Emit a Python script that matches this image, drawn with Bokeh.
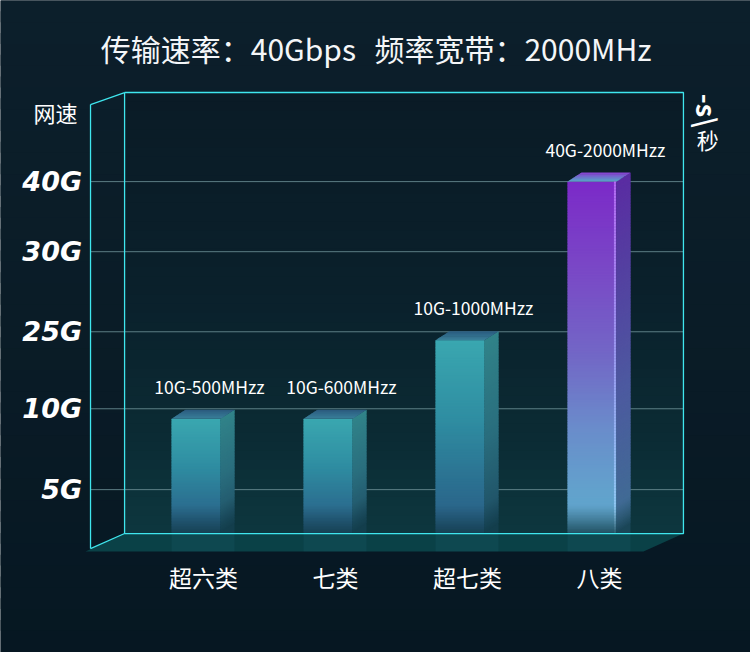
import numpy as np
from bokeh.plotting import figure
from bokeh.models import Range1d
from bokeh.core.properties import value
from bokeh.embed import file_html
from bokeh.resources import INLINE

# ---------------- data ----------------
title_parts = ["传输速率：40Gbps", "频率宽带：2000MHz"]
categories = ["超六类", "七类", "超七类", "八类"]
bar_labels = ["10G-500MHzz", "10G-600MHzz", "10G-1000MHzz", "40G-2000MHzz"]
bar_levels = [1.49, 1.49, 2.51, 4.57]          # bar heights on the (non-linear) speed scale
ytick_labels = ["5G", "10G", "25G", "30G", "40G"]
ytick_levels = [0.57, 1.62, 2.62, 3.66, 4.57]   # tick positions on the same scale
y_title = "网速"
unit_rot = "-s\\"
unit_cjk = "秒"

# ---------------- styles / geometry ----------------
BG = "#0a1b26"
CYAN = "#3fe6ee"
FONT = "Noto Sans CJK SC"
bar_kind = ["teal", "teal", "teal", "purple"]

X_RANGE = (-1.538, 4.144)
Y_RANGE = (-1.545, 6.922)
WALL_L, WALL_R, WALL_T = -0.598, 3.636, 5.727
FRONT_L, FRONT_T, FRONT_B = -0.856, 5.571, -0.195
FLOOR_FR, FLOOR_FB, FLOOR_FL = 3.333, -0.234, -0.894

FACE_L, FACE_R = -0.242, 0.129
DX, DY = 0.106, 0.117

FACE_STOPS = {
    "teal": [(0.0, "#2a5c84"), (0.25, "#2b6f90"), (0.6, "#2f8ea2"), (1.0, "#3aa7b0")],
    "purple": [(0.0, "#5fa6cc"), (0.12, "#62a2cc"), (0.3, "#6a8ccb"), (0.5, "#7268c6"),
               (0.75, "#7a48c6"), (1.0, "#7b2ac8")],
}
SIDE_STOPS = {
    "teal": [(0.0, "#1e4c62"), (0.5, "#2a6e7e"), (1.0, "#318389")],
    "purple": [(0.0, "#3e6f92"), (0.4, "#4d5aa0"), (1.0, "#5a2ca2")],
}
TOP_STOPS = {
    "teal": [(0.0, "#3a809a"), (1.0, "#2a5a7e")],
    "purple": [(0.0, "#55aac6"), (0.5, "#6f70cc"), (1.0, "#8a3ed2")],
}
FADE_COLOR = "#103a46"


def hex2rgb(h):
    h = h.lstrip("#")
    return np.array([int(h[i:i + 2], 16) for i in (0, 2, 4)], dtype=float)


def rgb2hex(c):
    c = np.clip(np.round(c), 0, 255).astype(int)
    return "#%02x%02x%02x" % tuple(c)


def grad(stops, t):
    t = min(max(t, 0.0), 1.0)
    for (p0, c0), (p1, c1) in zip(stops[:-1], stops[1:]):
        if t <= p1:
            f = 0.0 if p1 == p0 else (t - p0) / (p1 - p0)
            return hex2rgb(c0) + (hex2rgb(c1) - hex2rgb(c0)) * f
    return hex2rgb(stops[-1][1])


def fade(c, y):
    f = max(0.0, 1.0 - y / 0.38) ** 1.2 * 0.8
    return c * (1 - f) + hex2rgb(FADE_COLOR) * f


p = figure(width=750, height=652, x_range=Range1d(*X_RANGE), y_range=Range1d(*Y_RANGE),
           output_backend="svg", toolbar_location=None, min_border=0,
           background_fill_color=BG, border_fill_color=BG, outline_line_color=None)
p.grid.visible = False
p.axis.visible = False

# subtle background gradient (whole canvas)
NB = 30
bg_stops = [(0.0, "#061722"), (0.5, "#0a1c27"), (1.0, "#0c1f2b")]
bb = [Y_RANGE[0] + (Y_RANGE[1] - Y_RANGE[0]) * k / NB for k in range(NB + 1)]
p.quad(left=[X_RANGE[0]] * NB, right=[X_RANGE[1]] * NB, bottom=bb[:-1],
       top=[b + (bb[1] - bb[0]) * 1.5 for b in bb[:-1]],
       fill_color=[rgb2hex(grad(bg_stops, (k + 0.5) / NB)) for k in range(NB)], line_color=None)

# back wall gradient
N = 48
wl, wr, wb, wt, wc = [], [], [], [], []
wall_stops = [(0.0, "#0d373e"), (0.22, "#0b2b34"), (0.55, "#0a202b"), (1.0, "#0a1b26")]
h = WALL_T / N
for k in range(N):
    y0 = h * k
    wl.append(WALL_L); wr.append(WALL_R); wb.append(y0); wt.append(min(y0 + 1.6 * h, WALL_T))
    wc.append(rgb2hex(grad(wall_stops, (k + 0.5) / N)))
p.quad(left=wl, right=wr, bottom=wb, top=wt, fill_color=wc, line_color=None)

# grid lines
p.segment(x0=[FRONT_L] * len(ytick_levels), x1=[WALL_R] * len(ytick_levels),
          y0=ytick_levels, y1=ytick_levels, line_color="#66888f", line_width=1, line_alpha=0.9)

# bars
fq = dict(left=[], right=[], bottom=[], top=[], color=[])
sp = dict(xs=[], ys=[], color=[])
tp = dict(xs=[], ys=[], color=[])
hl = dict(x0=[], x1=[], y0=[], y1=[], color=[])
STRIP = 0.02
for i, (v, kind) in enumerate(zip(bar_levels, bar_kind)):
    x0 = i + FACE_L
    x1 = i + FACE_R
    x2 = x1 + DX
    ns = int(np.ceil(v / STRIP))
    hs = v / ns
    for k in range(ns):
        ya = hs * k
        yb = min(hs * (k + 1.8), v)
        ym = hs * (k + 0.5)
        fq["left"].append(x0); fq["right"].append(x1)
        fq["bottom"].append(ya); fq["top"].append(yb)
        fq["color"].append(rgb2hex(fade(grad(FACE_STOPS[kind], ym / v), ym)))
        sa = ya + DY if k > 0 else 0.0
        sp["xs"].append([x1, x2, x2, x1])
        sp["ys"].append([ya, sa, yb + DY, yb])
        sp["color"].append(rgb2hex(fade(grad(SIDE_STOPS[kind], ym / v), ym)))
        if kind == "purple":
            hc = grad([(0.0, "#8fd0f4"), (0.5, "#9a9cf0"), (1.0, "#b46cf2")], ym / v)
            hl["x0"].append(x1 - 0.012); hl["x1"].append(x1 - 0.012)
            hl["y0"].append(ya); hl["y1"].append(min(hs * (k + 1), v))
            hl["color"].append(rgb2hex(fade(hc, ym)))
    NT = 8
    for k in range(NT):
        sa, sb = k / NT, min((k + 1.6) / NT, 1.0)
        tp["xs"].append([x0 + DX * sa, x1 + DX * sa, x1 + DX * sb, x0 + DX * sb])
        tp["ys"].append([v + DY * sa, v + DY * sa, v + DY * sb, v + DY * sb])
        tp["color"].append(rgb2hex(grad(TOP_STOPS[kind], (k + 0.5) / NT)))

p.quad(left="left", right="right", bottom="bottom", top="top", fill_color="color",
       line_color=None, source=fq)
p.patches(xs="xs", ys="ys", fill_color="color", line_color=None, source=sp)
p.patches(xs="xs", ys="ys", fill_color="color", line_color=None, source=tp)
p.segment(x0="x0", x1="x1", y0="y0", y1="y1", line_color="color", line_width=2, source=hl)

# floor
p.patch(x=[WALL_L, WALL_R, FLOOR_FR, FLOOR_FL], y=[0, 0, FLOOR_FB, FLOOR_FB],
        fill_color="#0a4147", line_color=None)
p.quad(left=[i + FACE_L for i in range(len(bar_levels))],
       right=[i + FACE_R + DX for i in range(len(bar_levels))],
       bottom=[FLOOR_FB] * len(bar_levels), top=[0] * len(bar_levels),
       fill_color="#2f7f95", fill_alpha=0.12, line_color=None)

# cyan frame lines
p.multi_line(xs=[[WALL_L, WALL_R, WALL_R, WALL_L, WALL_L],
                 [FRONT_L, FRONT_L],
                 [FRONT_L, WALL_L],
                 [FRONT_L, WALL_L]],
             ys=[[WALL_T, WALL_T, 0, 0, WALL_T],
                 [FRONT_B, FRONT_T],
                 [FRONT_T, WALL_T],
                 [FRONT_B, 0]],
             line_color=CYAN, line_width=1.3)

# bar value labels
p.text(x=[i + 0.045 for i in range(len(bar_levels))], y=[v + 0.42 for v in bar_levels],
       text=bar_labels, text_font=value(FONT), text_font_size="17.5px", text_color="#ffffff",
       text_align="center", text_baseline="middle")

# y tick labels (drawn at the tick positions)
p.text(x=[-0.92] * len(ytick_levels), y=ytick_levels, text=ytick_labels,
       text_font=value("DejaVu Sans"), text_font_style="bold italic", text_font_size="27px",
       text_color="#ffffff", text_align="right", text_baseline="middle")

# category labels
p.text(x=list(range(len(categories))), y=[-0.56] * len(categories), text=categories,
       text_font=value(FONT), text_font_size="23px", text_color="#ffffff",
       text_align="center", text_baseline="middle")

# titles
p.text(x=[1.155, 1.295], y=[6.299, 6.299], text=title_parts, text_font=value(FONT),
       text_font_size="30px", text_color="#f4f6f8", text_align=["right", "left"],
       text_baseline="middle")
p.text(x=[-1.121], y=[5.468], text=[y_title], text_font=value(FONT), text_font_size="22px",
       text_color="#ffffff", text_align="center", text_baseline="middle")
p.text(x=[3.82], y=[5.49], text=[unit_rot], text_font=value(FONT), text_font_style="bold",
       text_font_size="27px", text_color="#ffffff", text_align="center",
       text_baseline="middle", angle=-np.pi / 2)
p.text(x=[3.82], y=[5.12], text=[unit_cjk], text_font=value(FONT), text_font_size="22px",
       text_color="#ffffff", text_align="center", text_baseline="middle")

open("out.html", "w").write(file_html(p, INLINE))
